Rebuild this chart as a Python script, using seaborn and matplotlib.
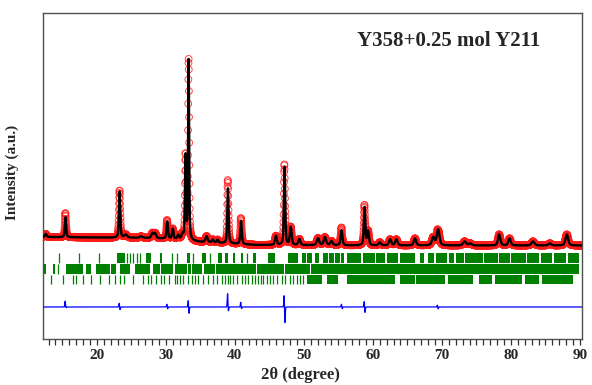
import numpy as np
import pandas as pd
import matplotlib
matplotlib.use("Agg")
import matplotlib.pyplot as plt
import seaborn as sns

# ---------------- data ----------------
# background knots (2theta, intensity)
bg_x = [12.2, 20.0, 27.0, 31.0, 35.0, 43.0, 60.0, 90.3]
bg_y = [102.0, 101.5, 101.0, 100.0, 97.0, 94.0, 93.5, 93.5]

# calculated peaks: position, height above background, FWHM
pk_pos = [12.6, 15.46, 23.3, 24.2, 26.4, 28.05, 28.45, 30.2, 31.0, 31.8, 32.4,
          32.85, 33.3, 35.9, 36.8, 37.5, 39.0, 40.9, 45.95, 47.2, 48.1, 49.35,
          52.05, 53.05, 54.0, 55.45, 58.8, 59.3, 61.0, 62.5, 63.4, 66.1, 68.75,
          69.45, 73.3, 74.1, 78.3, 79.8, 83.2, 85.65, 88.1]
pk_h = [3, 20, 46, 3, 1.5, 5, 5, 17, 10, 4, 5,
        84, 180, 6, 3, 3, 55, 23, 9, 78, 18, 6,
        7, 8, 4, 15, 38, 14, 3, 6, 6, 7, 8,
        16, 4, 2, 11, 7, 4, 2, 11]
pk_w = [0.3, 0.22, 0.22, 0.5, 0.5, 0.35, 0.35, 0.25, 0.25, 0.3, 0.3,
        0.18, 0.18, 0.35, 0.3, 0.3, 0.22, 0.25, 0.3, 0.22, 0.3, 0.35,
        0.4, 0.4, 0.4, 0.3, 0.25, 0.3, 0.4, 0.4, 0.4, 0.4, 0.45,
        0.45, 0.5, 0.5, 0.4, 0.4, 0.5, 0.5, 0.45]

# difference spikes: position, positive lobe, negative lobe
df_pos = [15.46, 23.3, 30.2, 33.3, 39.0, 40.9, 47.2, 55.5, 58.8, 69.4]
df_up = [6, 4, 3, 7, 14, 5, 13, 3, 6, 2]
df_dn = [1, 3, 2, 7, 5, 2, 17, 2, 6, 2]
diff_offset = 32.0

# Bragg reflection markers (three phases)
row1_ticks = [14.45, 17.35, 20.25, 24.35, 24.8, 25.3, 25.8, 26.2, 30.9, 31.55,
              33.9, 36.4, 41.7]
row1_blocks = [(22.9, 24.1), (27.1, 27.8), (29.1, 29.4), (33.0, 33.5), (35.2, 35.75),
               (37.5, 38.1), (38.6, 39.0), (39.7, 40.0), (40.9, 41.2), (42.6, 43.0),
               (44.8, 45.8), (47.7, 49.1), (49.7, 50.3), (50.4, 51.2), (51.6, 52.2),
               (52.8, 53.5), (53.6, 54.4), (54.5, 55.2), (55.45, 55.85), (56.2, 57.2),
               (57.3, 58.3), (58.6, 60.3), (60.5, 61.7), (62.1, 63.7), (63.9, 66.1),
               (66.8, 67.4), (68.0, 68.9), (69.2, 70.8), (71.0, 71.8), (72.0, 73.2),
               (73.4, 75.9), (76.1, 78.1), (78.3, 79.8), (80.0, 82.2), (82.4, 84.1),
               (84.3, 86.0), (86.2, 88.0), (88.2, 89.9)]
row2_ticks = [14.35]
row2_blocks = [(12.4, 12.6), (13.0, 13.1), (13.6, 13.9), (15.5, 18.0), (18.4, 19.1),
               (19.9, 21.9), (22.0, 22.75), (23.3, 24.8), (25.5, 27.7), (28.1, 29.1),
               (29.3, 31.0), (31.3, 33.0), (33.2, 33.6), (33.8, 35.3), (35.5, 37.1),
               (37.3, 43.0), (43.2, 47.1), (47.3, 50.9), (51.0, 89.8)]
row3_ticks = [13.3, 15.1, 16.5, 17.0, 18.0, 19.1, 20.4, 21.8, 22.6, 23.3, 24.0,
              25.2, 26.7, 27.4, 27.8, 28.6, 29.3, 29.8, 30.5, 31.3, 31.55, 32.03,
              32.5, 33.14, 33.72, 34.2, 34.68, 35.4, 36.13, 36.86, 37.35, 38.07,
              38.55, 38.94, 39.28, 39.76, 40.25, 40.97, 41.45, 41.93, 42.42, 42.9,
              43.38, 43.77, 44.1, 44.59, 45.07, 45.55, 46.04, 46.77, 47.25, 47.97,
              48.45, 48.94, 49.42, 49.9]
row3_blocks = [(50.4, 52.6), (53.3, 55.0), (56.2, 63.2), (63.9, 66.1), (66.3, 70.4),
               (70.9, 74.5), (75.4, 77.2), (77.7, 81.55), (82.0, 84.0), (84.45, 89.0)]

# ---------------- build profiles from the peak tables ----------------
x = np.arange(12.2, 90.3, 0.02)
bg = np.interp(x, bg_x, bg_y)


def pv(xx, p, h, w, eta=0.5):
    g = np.exp(-4 * np.log(2) * ((xx - p) / w) ** 2)
    l = 1.0 / (1.0 + 4 * ((xx - p) / w) ** 2)
    return h * (eta * l + (1 - eta) * g)


calc = bg.copy()
for p, h, w in zip(pk_pos, pk_h, pk_w):
    calc += pv(x, p, h, w)

diff = np.zeros_like(x)
for p, a, b in zip(df_pos, df_up, df_dn):
    diff += a * np.exp(-0.5 * ((x - (p - 0.05)) / 0.05) ** 2)
    diff -= b * np.exp(-0.5 * ((x - (p + 0.05)) / 0.05) ** 2)
obs = calc + diff

df = pd.DataFrame({"two_theta": x, "obs": obs, "calc": calc, "diff": diff + diff_offset})

# ---------------- plot ----------------
sns.set_style("white")
plt.rcParams["font.family"] = ["Liberation Serif", "DejaVu Serif"]

fig = plt.figure(figsize=(5.92, 3.85), dpi=100)
ax = fig.add_axes([43 / 592, 46 / 385, 539 / 592, 326 / 385])

sns.scatterplot(data=df, x="two_theta", y="obs", ax=ax, marker="o", s=24,
                facecolors="none", edgecolor="#ff1a1a", linewidth=0.7, alpha=0.8,
                zorder=2)
sns.lineplot(data=df, x="two_theta", y="calc", ax=ax, color="black", lw=1.7,
             zorder=3, estimator=None, sort=False)
sns.lineplot(data=df, x="two_theta", y="diff", ax=ax, color="#0000ff", lw=0.9,
             zorder=3, estimator=None, sort=False)

green = "#008000"
rows = [(row1_ticks, row1_blocks, 76, 86), (row2_ticks, row2_blocks, 65.5, 75),
        (row3_ticks, row3_blocks, 55, 64)]
for ticks, blocks, y0, y1 in rows:
    ax.vlines(ticks, y0, y1, color=green, lw=0.9)
    ax.broken_barh([(a, b - a) for a, b in blocks], (y0, y1 - y0), facecolors=green,
                   edgecolor="none")

ax.set_xlim(12.2, 90.3)
ax.set_ylim(0, 326)
ax.set_yticks([])
ax.set_xticks(range(20, 91, 10))
ax.set_xticks(range(13, 91), minor=True)
ax.tick_params(axis="x", which="both", direction="out", length=4.5, width=0.9,
               color="#303030", bottom=True, pad=3)
for lab in ax.get_xticklabels():
    lab.set_fontweight("bold")
    lab.set_fontsize(11)
for s in ax.spines.values():
    s.set_color("#505050")
    s.set_linewidth(1.0)

ax.set_xlabel("2θ (degree)", fontsize=12, fontweight="bold")
ax.xaxis.label.set_va("bottom")
ax.xaxis.set_label_coords(0.477, -0.136)
ax.set_ylabel("Intensity (a.u.)", fontsize=11, fontweight="bold")
ax.yaxis.set_label_coords(-0.045, 0.512)

ax.text(0.753, 0.914, "Y358+0.25 mol Y211", transform=ax.transAxes, ha="center",
        va="center", fontsize=15, fontweight="bold")

fig.savefig("out.png", dpi=100)
